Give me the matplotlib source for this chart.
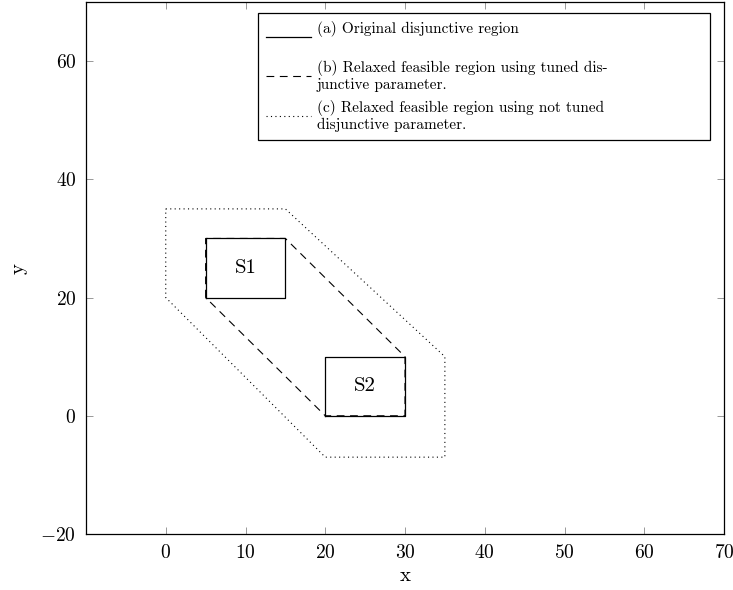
import matplotlib
matplotlib.use("Agg")
import matplotlib.pyplot as plt

plt.rcParams['font.family'] = ['cmr10', 'DejaVu Sans']
plt.rcParams['mathtext.fontset'] = 'cm'
plt.rcParams['axes.formatter.use_mathtext'] = True

# Data
s1_x = [5, 15, 15, 5, 5]
s1_y = [20, 20, 30, 30, 20]
s2_x = [20, 30, 30, 20, 20]
s2_y = [0, 0, 10, 10, 0]
tuned_x = [5, 5, 15, 30, 30, 20, 5]
tuned_y = [20, 30, 30, 10, 0, 0, 20]
untuned_x = [0, 15, 35, 35, 20, 0, 0]
untuned_y = [35, 35, 10, -7, -7, 20, 35]
labels = ["S1", "S2"]
label_x = [10, 25]
label_y = [25, 5]
x_ticks = [0, 10, 20, 30, 40, 50, 60, 70]
y_ticks = [-20, 0, 20, 40, 60]
legend_texts = [
    "(a) Original disjunctive region\n ",
    "(b) Relaxed feasible region using tuned dis-\njunctive parameter.",
    "(c) Relaxed feasible region using not tuned\ndisjunctive parameter.",
]

fig = plt.figure(figsize=(7.33, 5.90), dpi=100)
ax = fig.add_axes([86/733, 1-534/590, (724-86)/733, (534-2)/590])

l1, = ax.plot(s1_x, s1_y, color='black', lw=0.9)
ax.plot(s2_x, s2_y, color='black', lw=0.9)
l2, = ax.plot(tuned_x, tuned_y, color='black', lw=0.8, linestyle=(0, (7, 5)))
l3, = ax.plot(untuned_x, untuned_y, color='black', lw=0.8, linestyle=(0, (1, 3)))

for t, x, y in zip(labels, label_x, label_y):
    ax.text(x, y, t, ha='center', va='center', fontsize=15)

ax.set_xlim(-10, 70)
ax.set_ylim(-20, 70)
ax.set_xticks(x_ticks)
ax.set_yticks(y_ticks)
ax.tick_params(direction='in', length=5, width=0.6, color='#888888',
               top=True, right=True, labelsize=14, pad=7)
for sp in ax.spines.values():
    sp.set_linewidth(0.9)
ax.set_xlabel('x', fontsize=15, labelpad=4)
ax.set_ylabel('y', fontsize=15, labelpad=9)

x0 = (258 - 86) / 638
x1 = (710 - 86) / 638
y1 = 1 - 11 / 532
leg = ax.legend([l1, l2, l3], legend_texts, loc='upper left',
                bbox_to_anchor=(x0, 0.5, x1 - x0, y1 - 0.5), mode='expand',
                fontsize=11, handlelength=3, handletextpad=0.33,
                labelspacing=0.5, fancybox=False, framealpha=1,
                edgecolor='black', borderpad=0.5, borderaxespad=0)
leg.get_frame().set_linewidth(0.9)

fig.savefig('out.png', dpi=100)
